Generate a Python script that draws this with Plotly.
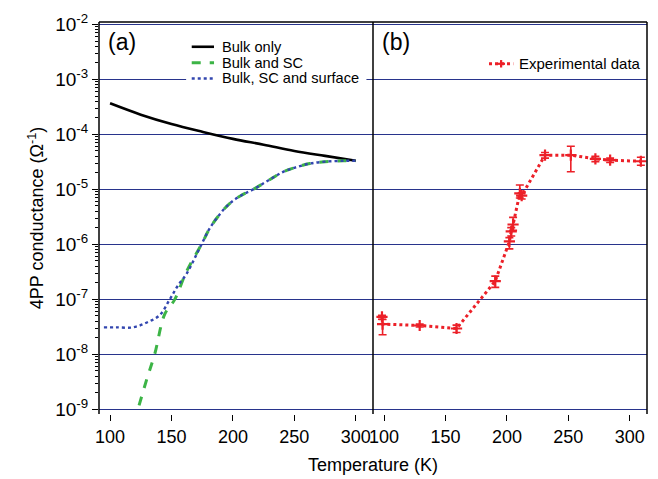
import plotly.graph_objects as go

# ---- Panel (a): simulated curves ----
T_bulk = [100, 125, 150, 175, 200, 225, 250, 275, 300]
G_bulk = [3.68e-4, 2.29e-4, 1.55e-4, 1.12e-4, 8.3e-5, 6.5e-5, 5.0e-5, 4.07e-5, 3.33e-5]

T_sc = [123.6, 130, 136.4, 144.5, 152.7, 162.2, 174.4, 181.2, 190, 197.5, 206, 216.5, 228, 240.9, 252, 262.6, 275, 289.7, 300]
G_sc = [1.18e-9, 3.6e-9, 1.02e-8, 5.4e-8, 1.0e-7, 3.2e-7, 1.0e-6, 1.97e-6, 3.7e-6, 5.6e-6, 7.6e-6, 1.0e-5, 1.42e-5, 2.09e-5, 2.55e-5, 2.95e-5, 3.2e-5, 3.31e-5, 3.33e-5]

T_surf = [95, 105, 118.7, 130, 140.5, 148.6, 155, 162.2, 174.4, 181.2, 190, 197.5, 206, 216.5, 228, 240.9, 252, 262.6, 275, 289.7, 300]
G_surf = [3.1e-8, 3.1e-8, 3.1e-8, 3.8e-8, 5.2e-8, 1.0e-7, 1.75e-7, 2.9e-7, 1.0e-6, 1.97e-6, 3.7e-6, 5.6e-6, 7.6e-6, 1.0e-5, 1.42e-5, 2.09e-5, 2.55e-5, 2.95e-5, 3.2e-5, 3.31e-5, 3.33e-5]

# ---- Panel (b): experimental data ----
T_exp = [98.3, 98.8, 129, 159, 190.5, 202, 203.5, 205, 210.5, 212, 231, 252, 272, 284, 309]
G_exp = [4.8e-8, 3.55e-8, 3.35e-8, 2.95e-8, 2.15e-7, 1.13e-6, 1.72e-6, 2.3e-6, 8.5e-6, 7.7e-6, 4.2e-5, 4.2e-5, 3.6e-5, 3.4e-5, 3.25e-5]
E_plus = [0.35e-8, 0.75e-8, 0.2e-8, 0.45e-8, 0.5e-7, 0.2e-6, 0.3e-6, 0.8e-6, 3.5e-6, 1.0e-6, 0.5e-5, 1.9e-5, 0.4e-5, 0.3e-5, 0.6e-5]
E_minus = [0.45e-8, 1.28e-8, 0.2e-8, 0.45e-8, 0.5e-7, 0.3e-6, 0.3e-6, 0.5e-6, 1.5e-6, 1.0e-6, 0.5e-5, 2.1e-5, 0.4e-5, 0.3e-5, 0.5e-5]

y_exponents = [-9, -8, -7, -6, -5, -4, -3, -2]
x_ticks = [100, 150, 200, 250, 300]

legend_a_names = ["Bulk only", "Bulk and SC", "Bulk, SC and surface"]
legend_b_name = "Experimental data"

FONT = "Liberation Sans, Arial, Helvetica, sans-serif"
GRID = "rgb(40,52,140)"
RED = "rgb(236,32,40)"
styles_a = [dict(color="black", width=2.6),
            dict(color="rgb(60,180,70)", width=3, dash="dash"),
            dict(color="rgb(50,70,175)", width=2.4, dash="dot")]

fig = go.Figure()
for T, G, name, st in zip([T_bulk, T_sc, T_surf], [G_bulk, G_sc, G_surf], legend_a_names, styles_a):
    fig.add_trace(go.Scatter(x=T, y=G, mode="lines", name=name,
                             line=dict(shape="spline", **st),
                             xaxis="x", yaxis="y", showlegend=False))
fig.add_trace(go.Scatter(x=T_exp, y=G_exp, mode="lines+markers", name=legend_b_name,
                         line=dict(color=RED, width=3, dash="dot"),
                         marker=dict(symbol="cross-thin", size=8, line=dict(color=RED, width=2.2)),
                         error_y=dict(type="data", symmetric=False, array=E_plus, arrayminus=E_minus,
                                      color=RED, thickness=1.6, width=4),
                         xaxis="x2", yaxis="y", showlegend=False))

xcommon = dict(range=[91, 314], tickvals=x_ticks, ticks="outside", ticklen=6, tickwidth=1.2,
               tickcolor="black", showgrid=False, zeroline=False, showline=False,
               tickfont=dict(family=FONT, size=18, color="black"), anchor="y")

# ---- manual legends (paper coordinates) ----
shapes = [
    # white background behind legend (a)
    dict(type="rect", xref="paper", yref="paper", x0=0.159, x1=0.488, y0=0.835, y1=0.955,
         fillcolor="white", line=dict(width=0), layer="above"),
]
annotations = []
rows_y = [0.9368, 0.8963, 0.8559]
for name, st, yy in zip(legend_a_names, styles_a, rows_y):
    shapes.append(dict(type="line", xref="paper", yref="paper", x0=0.1692, x1=0.2099, y0=yy, y1=yy,
                       line=st, layer="above"))
    annotations.append(dict(text=name, x=0.2225, y=yy, xref="paper", yref="paper", xanchor="left",
                            yanchor="middle", showarrow=False, borderpad=0,
                            font=dict(family=FONT, size=14.6, color="black")))
# legend (b)
yb = 0.8934
shapes.append(dict(type="line", xref="paper", yref="paper", x0=0.7117, x1=0.756, y0=yb, y1=yb,
                   line=dict(color=RED, width=3, dash="dot"), layer="above"))
shapes.append(dict(type="line", xref="paper", yref="paper", x0=0.7268, x1=0.7409, y0=yb, y1=yb,
                   line=dict(color=RED, width=2.2), layer="above"))
shapes.append(dict(type="line", xref="paper", yref="paper", x0=0.7338, x1=0.7338, y0=yb - 0.0095, y1=yb + 0.0095,
                   line=dict(color=RED, width=2.2), layer="above"))
annotations.append(dict(text=legend_b_name, x=0.765, y=yb, xref="paper", yref="paper", xanchor="left",
                        yanchor="middle", showarrow=False, borderpad=0,
                        font=dict(family=FONT, size=15, color="black")))

annotations += [
    dict(text="(a)", x=0.012, y=0.948, xref="paper", yref="paper", xanchor="left", yanchor="middle",
         showarrow=False, font=dict(family=FONT, size=23, color="black")),
    dict(text="(b)", x=0.512, y=0.948, xref="paper", yref="paper", xanchor="left", yanchor="middle",
         showarrow=False, font=dict(family=FONT, size=23, color="black")),
    dict(text="Temperature (K)", x=0.5, y=-0.13, xref="paper", yref="paper", xanchor="center",
         yanchor="middle", showarrow=False, font=dict(family=FONT, size=18, color="black")),
]

# frame
for x0, x1, y0, y1 in [(0, 0, 0, 1), (0.5, 0.5, 0, 1), (1, 1, 0, 1), (0, 1, 1, 1)]:
    shapes.append(dict(type="line", xref="paper", yref="paper", x0=x0, x1=x1, y0=y0, y1=y1,
                       line=dict(color="black", width=1.5), layer="above"))

fig.update_layout(
    width=658, height=479,
    margin=dict(l=99, r=11, t=18, b=65),
    paper_bgcolor="white", plot_bgcolor="white",
    font=dict(family=FONT, color="black"),
    showlegend=False,
    xaxis=dict(domain=[0, 0.5], **xcommon),
    xaxis2=dict(domain=[0.5, 1], **xcommon),
    yaxis=dict(type="log", range=[-9.085, -1.955],
               tickvals=[10.0 ** e for e in y_exponents],
               ticktext=["10<sup>%d</sup>" % e for e in y_exponents],
               ticks="outside", ticklen=6, tickwidth=1.2, tickcolor="black",
               minor=dict(tickvals=[k * 10.0 ** e for e in y_exponents[:-1] for k in range(2, 10)],
                          ticks="outside", ticklen=3, tickwidth=1, tickcolor="black", showgrid=False),
               showgrid=True, gridcolor=GRID, gridwidth=1.2,
               showline=False, zeroline=False,
               tickfont=dict(family=FONT, size=19, color="black"),
               title=dict(text="4PP conductance (Ω<sup>-1</sup>)", font=dict(family=FONT, size=18),
                          standoff=6)),
    annotations=annotations,
    shapes=shapes,
)

fig.write_html("out.html")
